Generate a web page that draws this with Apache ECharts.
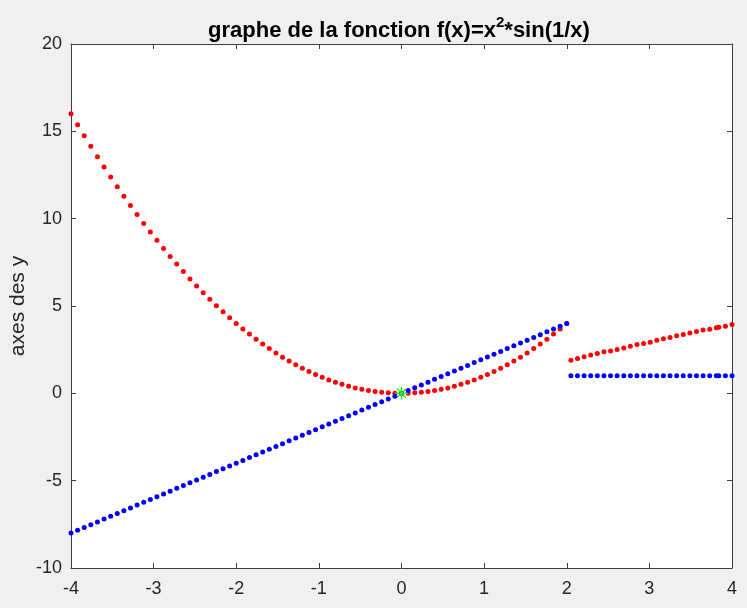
<!DOCTYPE html>
<html>
<head>
<meta charset="utf-8">
<title>graphe de la fonction</title>
<script src="https://cdn.jsdelivr.net/npm/echarts@6/dist/echarts.min.js"></script>
<style>
  html, body { margin: 0; padding: 0; background: #f0f0f0; }
  #main { width: 747px; height: 608px; }
</style>
</head>
<body>
<div id="main"></div>
<script>
  // abscisses de la premiere partie (x de -4 a 2)
  var xGauche = [-4.00, -3.92, -3.84, -3.76, -3.68, -3.60, -3.52, -3.44, -3.36, -3.28,
    -3.20, -3.12, -3.04, -2.96, -2.88, -2.80, -2.72, -2.64, -2.56, -2.48,
    -2.40, -2.32, -2.24, -2.16, -2.08, -2.00, -1.92, -1.84, -1.76, -1.68,
    -1.60, -1.52, -1.44, -1.36, -1.28, -1.20, -1.12, -1.04, -0.96, -0.88,
    -0.80, -0.72, -0.64, -0.56, -0.48, -0.40, -0.32, -0.24, -0.16, -0.08,
    0.00, 0.08, 0.16, 0.24, 0.32, 0.40, 0.48, 0.56, 0.64, 0.72,
    0.80, 0.88, 0.96, 1.04, 1.12, 1.20, 1.28, 1.36, 1.44, 1.52,
    1.60, 1.68, 1.76, 1.84, 1.92, 2.00];

  // courbe rouge (gauche)
  var rougeGauche = [16.00, 15.37, 14.75, 14.14, 13.54, 12.96, 12.39, 11.83, 11.29, 10.76,
    10.24, 9.73, 9.24, 8.76, 8.29, 7.84, 7.40, 6.97, 6.55, 6.15,
    5.76, 5.38, 5.02, 4.67, 4.33, 4.00, 3.69, 3.39, 3.10, 2.82,
    2.56, 2.31, 2.07, 1.85, 1.64, 1.44, 1.25, 1.08, 0.92, 0.77,
    0.64, 0.52, 0.41, 0.31, 0.23, 0.16, 0.10, 0.06, 0.03, 0.01,
    0.00, 0.01, 0.03, 0.06, 0.10, 0.16, 0.23, 0.31, 0.41, 0.52,
    0.64, 0.77, 0.92, 1.08, 1.25, 1.44, 1.64, 1.85, 2.07, 2.31,
    2.56, 2.82, 3.10, 3.39, 3.69, 4.00];

  // droite bleue (gauche)
  var bleuGauche = [-8.00, -7.84, -7.68, -7.52, -7.36, -7.20, -7.04, -6.88, -6.72, -6.56,
    -6.40, -6.24, -6.08, -5.92, -5.76, -5.60, -5.44, -5.28, -5.12, -4.96,
    -4.80, -4.64, -4.48, -4.32, -4.16, -4.00, -3.84, -3.68, -3.52, -3.36,
    -3.20, -3.04, -2.88, -2.72, -2.56, -2.40, -2.24, -2.08, -1.92, -1.76,
    -1.60, -1.44, -1.28, -1.12, -0.96, -0.80, -0.64, -0.48, -0.32, -0.16,
    0.00, 0.16, 0.32, 0.48, 0.64, 0.80, 0.96, 1.12, 1.28, 1.44,
    1.60, 1.76, 1.92, 2.08, 2.24, 2.40, 2.56, 2.72, 2.88, 3.04,
    3.20, 3.36, 3.52, 3.68, 3.84, 4.00];

  // abscisses de la deuxieme partie (x de 2 a 4)
  var xDroite = [2.05, 2.13, 2.21, 2.29, 2.37, 2.45, 2.53, 2.61, 2.69, 2.77,
    2.85, 2.93, 3.01, 3.09, 3.17, 3.25, 3.33, 3.41, 3.49, 3.57,
    3.65, 3.73, 3.81, 3.84, 3.92, 4.00];

  var rougeDroite = [1.90, 2.00, 2.09, 2.19, 2.28, 2.38, 2.43, 2.51, 2.60, 2.70,
    2.79, 2.85, 2.93, 3.04, 3.12, 3.20, 3.29, 3.37, 3.46, 3.54,
    3.62, 3.67, 3.75, 3.79, 3.84, 3.94];

  var bleuDroite = [1, 1, 1, 1, 1, 1, 1, 1, 1, 1,
    1, 1, 1, 1, 1, 1, 1, 1, 1, 1,
    1, 1, 1, 1, 1, 1];

  // point vert a l'origine
  var pointVert = [[0, 0]];

  var xTicks = [-4, 4, 1];   // min, max, pas
  var yTicks = [-10, 20, 5];

  function paires(xs, ys) {
    return xs.map(function (x, i) { return [x, ys[i]]; });
  }

  var police = 'Liberation Sans, Arial, Helvetica, sans-serif';
  var gris = '#262626';
  var cadre = '#3c3c3c';

  // etoile (*) de matlab
  var etoile = 'path://M9 0L11 0L11 20L9 20Z M0 9L20 9L20 11L0 11Z' +
    ' M2.3 3.7L3.7 2.3L17.7 16.3L16.3 17.7Z M16.3 2.3L17.7 3.7L3.7 17.7L2.3 16.3Z';

  var myChart = echarts.init(document.getElementById('main'), null, { renderer: 'canvas' });

  var axeCommun = {
    type: 'value',
    axisLine: { show: true, onZero: false, lineStyle: { color: cadre, width: 1 } },
    axisTick: { show: true, inside: true, length: 5, lineStyle: { color: cadre } },
    splitLine: { show: false }
  };

  var option = {
    backgroundColor: '#f0f0f0',
    animation: false,
    title: {
      text: '{t|graphe de la fonction f(x)=x}{s|2}{t|*sin(1/x)}',
      left: 394,
      textAlign: 'center',
      top: 10,
      textStyle: {
        rich: {
          t: { fontFamily: police, fontSize: 22, fontWeight: 'bold', color: '#000', lineHeight: 27, verticalAlign: 'bottom' },
          s: { fontFamily: police, fontSize: 15, fontWeight: 'bold', color: '#000', lineHeight: 15, verticalAlign: 'top' }
        }
      }
    },
    grid: {
      left: 71, right: 15, top: 44, bottom: 40,
      show: true, backgroundColor: '#ffffff', borderWidth: 0,
      outerBoundsMode: 'none'
    },
    xAxis: [
      Object.assign({}, axeCommun, {
        position: 'bottom', min: xTicks[0], max: xTicks[1], interval: xTicks[2],
        axisLabel: { fontFamily: police, fontSize: 18, color: gris, margin: 12 }
      }),
      Object.assign({}, axeCommun, {
        position: 'top', min: xTicks[0], max: xTicks[1], interval: xTicks[2],
        axisLabel: { show: false }
      })
    ],
    yAxis: [
      Object.assign({}, axeCommun, {
        position: 'left', min: yTicks[0], max: yTicks[1], interval: yTicks[2],
        axisLabel: { fontFamily: police, fontSize: 18, color: gris, margin: 9 },
        name: 'axes des y',
        nameLocation: 'middle',
        nameGap: 42,
        nameMoveOverlap: false,
        nameTextStyle: { fontFamily: police, fontSize: 21, color: gris }
      }),
      Object.assign({}, axeCommun, {
        position: 'right', min: yTicks[0], max: yTicks[1], interval: yTicks[2],
        axisLabel: { show: false }
      })
    ],
    series: [
      {
        name: 'rouge1', type: 'scatter', symbol: 'circle', symbolSize: 5,
        itemStyle: { color: '#ff0000', opacity: 1 }, z: 2,
        data: paires(xGauche, rougeGauche)
      },
      {
        name: 'bleu1', type: 'scatter', symbol: 'circle', symbolSize: 5,
        itemStyle: { color: '#0000ff', opacity: 1 }, z: 3,
        data: paires(xGauche, bleuGauche)
      },
      {
        name: 'rouge2', type: 'scatter', symbol: 'circle', symbolSize: 5,
        itemStyle: { color: '#ff0000', opacity: 1 }, z: 2,
        data: paires(xDroite, rougeDroite)
      },
      {
        name: 'bleu2', type: 'scatter', symbol: 'circle', symbolSize: 5,
        itemStyle: { color: '#0000ff', opacity: 1 }, z: 3,
        data: paires(xDroite, bleuDroite)
      },
      {
        name: 'vert', type: 'scatter', symbol: etoile, symbolSize: 13,
        itemStyle: { color: '#22ee22', opacity: 1 }, z: 4,
        data: pointVert
      }
    ]
  };

  myChart.setOption(option);
</script>
</body>
</html>
